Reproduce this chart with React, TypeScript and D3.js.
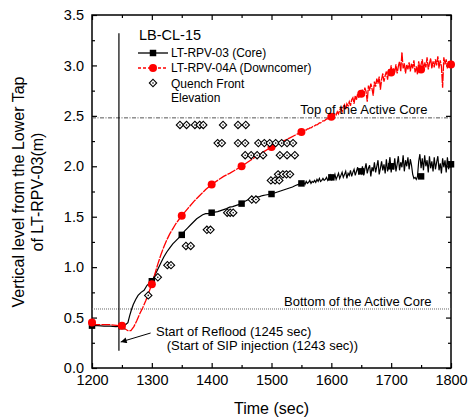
import React, { useEffect, useRef } from "react";
import * as d3 from "d3";

// axis ticks
const xMajor = [1200, 1300, 1400, 1500, 1600, 1700, 1800];
const xMinor = [1250, 1350, 1450, 1550, 1650, 1750];
const yMajor = [0, 0.5, 1.0, 1.5, 2.0, 2.5, 3.0, 3.5];
const yMinor = [0.25, 0.75, 1.25, 1.75, 2.25, 2.75, 3.25];

// LT-RPV-03 (Core) - smooth part
const coreTime = [
  1200, 1210, 1220, 1230, 1240, 1250, 1256, 1260, 1263, 1266, 1269, 1273, 1277, 1282, 1287, 1292, 1296,
  1300, 1305, 1310, 1315, 1320, 1325, 1330, 1335, 1340, 1345, 1350, 1355, 1360, 1365, 1370, 1375, 1380,
  1385, 1390, 1395, 1400, 1405, 1410, 1415, 1420, 1425, 1430, 1435, 1440, 1445, 1450, 1455, 1460, 1465,
  1470, 1475, 1480, 1485, 1490, 1495, 1500, 1505, 1510, 1515, 1520, 1525, 1530, 1535, 1540, 1545, 1550,
];
const coreLevel = [
  0.42, 0.42, 0.415, 0.415, 0.41, 0.415, 0.43, 0.45, 0.52, 0.58, 0.63, 0.68, 0.72, 0.75, 0.77, 0.82, 0.84,
  0.86, 0.92, 0.98, 1.04, 1.1, 1.15, 1.19, 1.23, 1.26, 1.29, 1.32, 1.36, 1.39, 1.42, 1.45, 1.48, 1.5,
  1.52, 1.53, 1.53, 1.54, 1.545, 1.55, 1.56, 1.57, 1.58, 1.595, 1.6, 1.61, 1.62, 1.63, 1.65, 1.665, 1.68,
  1.685, 1.695, 1.7, 1.71, 1.715, 1.72, 1.725, 1.735, 1.745, 1.755, 1.765, 1.775, 1.785, 1.795, 1.81, 1.82, 1.83,
];
// noisy tail, sampled every 2 sec from 1552 to 1800
const tailStart = 1552;
const tailStep = 2;
const coreTail = [
  1.83, 1.84, 1.82, 1.85, 1.83, 1.84, 1.86, 1.83, 1.85, 1.84,
  1.86, 1.84, 1.87, 1.85, 1.88, 1.85, 1.86, 1.88, 1.86, 1.87,
  1.89, 1.86, 1.88, 1.91, 1.87, 1.9, 1.88, 1.92, 1.87, 1.9,
  1.93, 1.88, 1.91, 1.94, 1.89, 1.92, 1.95, 1.88, 1.93, 1.91,
  1.96, 1.9, 1.94, 1.97, 1.91, 1.95, 1.99, 1.92, 1.96, 1.93,
  2.0, 1.91, 1.97, 2.03, 1.93, 1.98, 2.01, 1.9, 1.99, 1.95,
  2.04, 1.94, 2.0, 2.06, 1.92, 1.98, 2.05, 1.96, 2.02, 1.93,
  2.07, 1.95, 2.01, 2.09, 1.94, 2.03, 1.97, 2.08, 1.95, 2.02,
  2.1, 1.96, 2.04, 1.99, 2.11, 1.95, 2.06, 2.0, 2.09, 1.97,
  2.07, 2.01, 1.92, 1.88, 1.89, 1.87, 1.9, 2.05, 2.12, 1.98,
  2.08, 1.96, 2.11, 2.0, 2.06, 1.94, 2.1, 1.98, 2.05, 1.95,
  2.09, 1.97, 2.04, 2.1, 1.96, 2.03, 1.93, 2.08, 1.99, 2.06,
  1.94, 2.09, 1.97, 2.04, 1.99,
];

// LT-RPV-04A (Downcomer)
const downTime = [
  1200, 1205, 1215, 1230, 1245, 1250, 1255, 1260, 1265, 1270, 1275, 1280, 1285, 1290, 1295, 1300, 1305,
  1310, 1315, 1320, 1325, 1330, 1335, 1340, 1345, 1350, 1360, 1370, 1380, 1390, 1400, 1410, 1420, 1430,
  1440, 1450, 1460, 1470, 1480, 1490, 1500, 1510, 1520, 1530, 1540, 1550,
];
const downLevel = [
  0.45, 0.43, 0.43, 0.43, 0.42, 0.42, 0.39, 0.37, 0.37, 0.41, 0.47, 0.54, 0.6, 0.67, 0.75, 0.83, 0.93,
  1.03, 1.12, 1.2, 1.27, 1.33, 1.38, 1.43, 1.47, 1.51, 1.58, 1.65, 1.71, 1.77, 1.82, 1.86, 1.9, 1.93,
  1.965, 2.0, 2.04, 2.08, 2.12, 2.155, 2.19, 2.22, 2.25, 2.28, 2.31, 2.34,
];
const downTail = [
  2.35, 2.35, 2.36, 2.36, 2.37, 2.37, 2.38, 2.38, 2.39, 2.4,
  2.4, 2.41, 2.41, 2.42, 2.43, 2.43, 2.44, 2.45, 2.45, 2.46,
  2.47, 2.47, 2.48, 2.49, 2.49, 2.51, 2.49, 2.52, 2.51, 2.54,
  2.52, 2.56, 2.58, 2.54, 2.59, 2.61, 2.56, 2.62, 2.6, 2.64,
  2.6, 2.66, 2.68, 2.62, 2.7, 2.66, 2.72, 2.68, 2.74, 2.71,
  2.76, 2.7, 2.78, 2.74, 2.64, 2.8, 2.75, 2.82, 2.77, 2.7,
  2.84, 2.79, 2.87, 2.82, 2.89, 2.76, 2.86, 2.92, 2.84, 2.9,
  2.94, 2.86, 2.96, 2.91, 3.0, 2.9, 2.97, 2.93, 3.01, 2.92,
  2.99, 3.04, 2.94, 3.13, 2.97, 3.02, 2.92, 3.01, 2.96, 3.03,
  2.94, 3.02, 2.97, 3.05, 2.93, 2.99, 2.91, 3.04, 2.96, 3.01,
  3.06, 2.95, 3.03, 2.98, 3.08, 2.96, 3.02, 3.07, 2.97, 3.04,
  2.98, 3.06, 3.0, 3.09, 2.97, 3.05, 2.99, 2.78, 3.08, 3.01,
  3.06, 2.97, 3.04, 3.0, 3.05,
];

// symbols every 50 sec
const markerTime = [1200, 1250, 1300, 1350, 1400, 1450, 1500, 1550, 1600, 1650, 1700, 1750, 1800];
const coreMarker = [0.42, 0.415, 0.86, 1.32, 1.54, 1.63, 1.725, 1.83, 1.89, 1.95, 2.0, 1.9, 2.02];
const downMarker = [0.45, 0.42, 0.83, 1.51, 1.82, 2.0, 2.19, 2.34, 2.49, 2.72, 2.93, 2.96, 3.01];

// quench front elevation
const quenchTime = [
  1347, 1358, 1372, 1380, 1386, 1419, 1444, 1457,
  1410, 1417, 1444, 1456, 1478, 1488, 1497, 1507, 1517, 1526, 1536,
  1456, 1466, 1476, 1486, 1514, 1526, 1539,
  1511, 1519, 1525, 1531,
  1499, 1506, 1513,
  1467, 1474,
  1426, 1431, 1436,
  1392, 1398,
  1357, 1365,
  1326, 1332,
  1310,
  1294,
];
const quenchLevel = [
  2.41, 2.41, 2.41, 2.41, 2.41, 2.41, 2.41, 2.41,
  2.23, 2.23, 2.23, 2.23, 2.23, 2.23, 2.23, 2.23, 2.23, 2.23, 2.23,
  2.11, 2.11, 2.11, 2.11, 2.11, 2.11, 2.11,
  1.92, 1.92, 1.92, 1.92,
  1.86, 1.86, 1.86,
  1.67, 1.67,
  1.54, 1.54, 1.54,
  1.37, 1.37,
  1.21, 1.21,
  1.02, 1.02,
  0.9,
  0.72,
];

const topCore = 2.48;
const bottomCore = 0.585;
const refloodTime = 1245;

const W = 471;
const H = 420;
const margin = { top: 15, right: 20, bottom: 52, left: 92 };
const FONT = "Arial, 'Liberation Sans', sans-serif";

export default function App() {
  const svgRef = useRef<SVGSVGElement>(null);

  useEffect(() => {
    const svg = d3.select(svgRef.current);
    svg.selectAll("*").remove();

    const x = d3.scaleLinear().domain([1200, 1800]).range([margin.left, W - margin.right]);
    const y = d3.scaleLinear().domain([0, 3.5]).range([H - margin.bottom, margin.top]);
    const x0 = margin.left, x1 = W - margin.right, y0 = H - margin.bottom, y1 = margin.top;

    /* axes: inward ticks on all four sides */
    const axes = svg.append("g").attr("font-family", FONT);
    const bottom = axes.append("g").attr("transform", `translate(0,${y0})`)
      .call(d3.axisBottom(x).tickValues(xMajor).tickSize(-5).tickPadding(7).tickFormat(d3.format("d")));
    axes.append("g").attr("transform", `translate(0,${y0})`)
      .call(d3.axisBottom(x).tickValues(xMinor).tickSize(-3).tickFormat(() => ""));
    const left = axes.append("g").attr("transform", `translate(${x0},0)`)
      .call(d3.axisLeft(y).tickValues(yMajor).tickSize(-5).tickPadding(8).tickFormat(d3.format(".1f")));
    axes.append("g").attr("transform", `translate(${x0},0)`)
      .call(d3.axisLeft(y).tickValues(yMinor).tickSize(-3).tickFormat(() => ""));
    axes.append("g").attr("transform", `translate(0,${y1})`)
      .call(d3.axisTop(x).tickValues(xMajor).tickSize(-5).tickFormat(() => ""));
    axes.append("g").attr("transform", `translate(0,${y1})`)
      .call(d3.axisTop(x).tickValues(xMinor).tickSize(-3).tickFormat(() => ""));
    axes.append("g").attr("transform", `translate(${x1},0)`)
      .call(d3.axisRight(y).tickValues(yMajor).tickSize(-5).tickFormat(() => ""));
    axes.append("g").attr("transform", `translate(${x1},0)`)
      .call(d3.axisRight(y).tickValues(yMinor).tickSize(-3).tickFormat(() => ""));
    axes.selectAll(".domain").remove();
    axes.selectAll(".tick line").attr("stroke", "#000").attr("stroke-width", 1.2);
    bottom.selectAll("text").attr("font-size", 14.5).attr("fill", "#000");
    left.selectAll("text").attr("font-size", 14.5).attr("fill", "#000");

    svg.append("rect")
      .attr("x", x0).attr("y", y1).attr("width", x1 - x0).attr("height", y0 - y1)
      .attr("fill", "none").attr("stroke", "#000").attr("stroke-width", 1.5);

    /* reference lines */
    svg.append("line")
      .attr("x1", x(1200)).attr("x2", x(1800)).attr("y1", y(topCore)).attr("y2", y(topCore))
      .attr("stroke", "#555").attr("stroke-width", 1).attr("stroke-dasharray", "4,1.5,1,1.5");
    svg.append("line")
      .attr("x1", x(1200)).attr("x2", x(1800)).attr("y1", y(bottomCore)).attr("y2", y(bottomCore))
      .attr("stroke", "#666").attr("stroke-width", 1).attr("stroke-dasharray", "1,1");
    svg.append("line")
      .attr("x1", x(refloodTime)).attr("x2", x(refloodTime)).attr("y1", y(3.32)).attr("y2", y(0.17))
      .attr("stroke", "#000").attr("stroke-width", 1.2);

    const line = d3.line<[number, number]>().x((d) => x(d[0])).y((d) => y(d[1]));
    const coreData: [number, number][] = coreTime.map((t, i) => [t, coreLevel[i]]);
    coreTail.forEach((v, i) => coreData.push([tailStart + i * tailStep, v]));
    const downData: [number, number][] = downTime.map((t, i) => [t, downLevel[i]]);
    downTail.forEach((v, i) => downData.push([tailStart + i * tailStep, v]));

    svg.append("path").attr("d", line(coreData)!)
      .attr("fill", "none").attr("stroke", "#000").attr("stroke-width", 1.2);
    svg.append("path").attr("d", line(downData)!)
      .attr("fill", "none").attr("stroke", "#ff0000").attr("stroke-width", 1.3)
      .attr("stroke-dasharray", "9,1");

    const square = d3.symbol().type(d3.symbolSquare).size(42);
    svg.append("g").selectAll("path").data(markerTime).join("path")
      .attr("d", square()!)
      .attr("transform", (t, i) => `translate(${x(t)},${y(coreMarker[i])})`)
      .attr("fill", "#000");
    svg.append("g").selectAll("circle").data(markerTime).join("circle")
      .attr("cx", (t) => x(t)).attr("cy", (t, i) => y(downMarker[i])).attr("r", 4)
      .attr("fill", "#ff0000");

    /* quench front diamonds */
    const diamond = (g: any) => {
      g.append("rect").attr("x", -2.6).attr("y", -2.6).attr("width", 5.2).attr("height", 5.2)
        .attr("transform", "rotate(45)").attr("fill", "#fff").attr("stroke", "#000").attr("stroke-width", 1.1);
      g.append("circle").attr("r", 0.8).attr("fill", "#000");
    };
    svg.append("g").selectAll("g").data(quenchTime).join("g")
      .attr("transform", (t, i) => `translate(${x(t)},${y(quenchLevel[i])})`)
      .each(function () { diamond(d3.select(this)); });

    /* annotations */
    const ann = svg.append("g").attr("font-family", FONT).attr("font-size", 13).attr("fill", "#000");
    ann.append("text").attr("x", x(1548)).attr("y", y(2.52)).text("Top of the Active Core");
    ann.append("text").attr("x", x(1521)).attr("y", y(0.615)).text("Bottom of the Active Core");
    ann.append("text").attr("x", x(1307)).attr("y", y(0.317)).text("Start of Reflood (1245 sec)");
    ann.append("text").attr("x", x(1325)).attr("y", y(0.18)).text("(Start of SIP injection (1243 sec))");

    svg.append("defs").append("marker")
      .attr("id", "arrow").attr("viewBox", "0 0 10 10").attr("refX", 10).attr("refY", 5)
      .attr("markerWidth", 7).attr("markerHeight", 6).attr("orient", "auto")
      .append("path").attr("d", "M0,0 L10,5 L0,10 Z").attr("fill", "#000");
    svg.append("line")
      .attr("x1", x(1298)).attr("y1", y(0.347)).attr("x2", x(1248)).attr("y2", y(0.258))
      .attr("stroke", "#000").attr("stroke-width", 1).attr("marker-end", "url(#arrow)");

    /* legend */
    const lg = svg.append("g").attr("font-family", FONT).attr("fill", "#000");
    lg.append("text").attr("x", 139).attr("y", 40).attr("font-size", 14.5).text("LB-CL-15");
    lg.append("line").attr("x1", 138).attr("x2", 168).attr("y1", 53).attr("y2", 53)
      .attr("stroke", "#000").attr("stroke-width", 1.3);
    lg.append("path").attr("d", square()!).attr("transform", "translate(153,53)").attr("fill", "#000");
    lg.append("text").attr("x", 171).attr("y", 57).attr("font-size", 12).text("LT-RPV-03 (Core)");
    lg.append("line").attr("x1", 138).attr("x2", 168).attr("y1", 68).attr("y2", 68)
      .attr("stroke", "#ff0000").attr("stroke-width", 1.3).attr("stroke-dasharray", "3,2");
    lg.append("circle").attr("cx", 153).attr("cy", 68).attr("r", 4).attr("fill", "#ff0000");
    lg.append("text").attr("x", 171).attr("y", 72).attr("font-size", 12).text("LT-RPV-04A (Downcomer)");
    const ld = lg.append("g").attr("transform", "translate(153,83)");
    diamond(ld);
    lg.append("text").attr("x", 171).attr("y", 88).attr("font-size", 12).text("Quench Front");
    lg.append("text").attr("x", 171).attr("y", 102).attr("font-size", 12).text("Elevation");

    /* axis titles */
    const tt = svg.append("g").attr("font-family", FONT).attr("fill", "#000").attr("font-size", 16);
    tt.append("text").attr("x", (x0 + x1) / 2).attr("y", 414).attr("text-anchor", "middle").text("Time (sec)");
    tt.append("text").attr("transform", "translate(24,192) rotate(-90)").attr("text-anchor", "middle")
      .text("Vertical level from the Lower Tap");
    tt.append("text").attr("transform", "translate(43,192) rotate(-90)").attr("text-anchor", "middle")
      .text("of LT-RPV-03(m)");
  }, []);

  return (
    <div style={{ position: "absolute", left: 0, top: 0, width: W, height: H, background: "#fff" }}>
      <svg ref={svgRef} width={W} height={H} style={{ display: "block" }} />
    </div>
  );
}
